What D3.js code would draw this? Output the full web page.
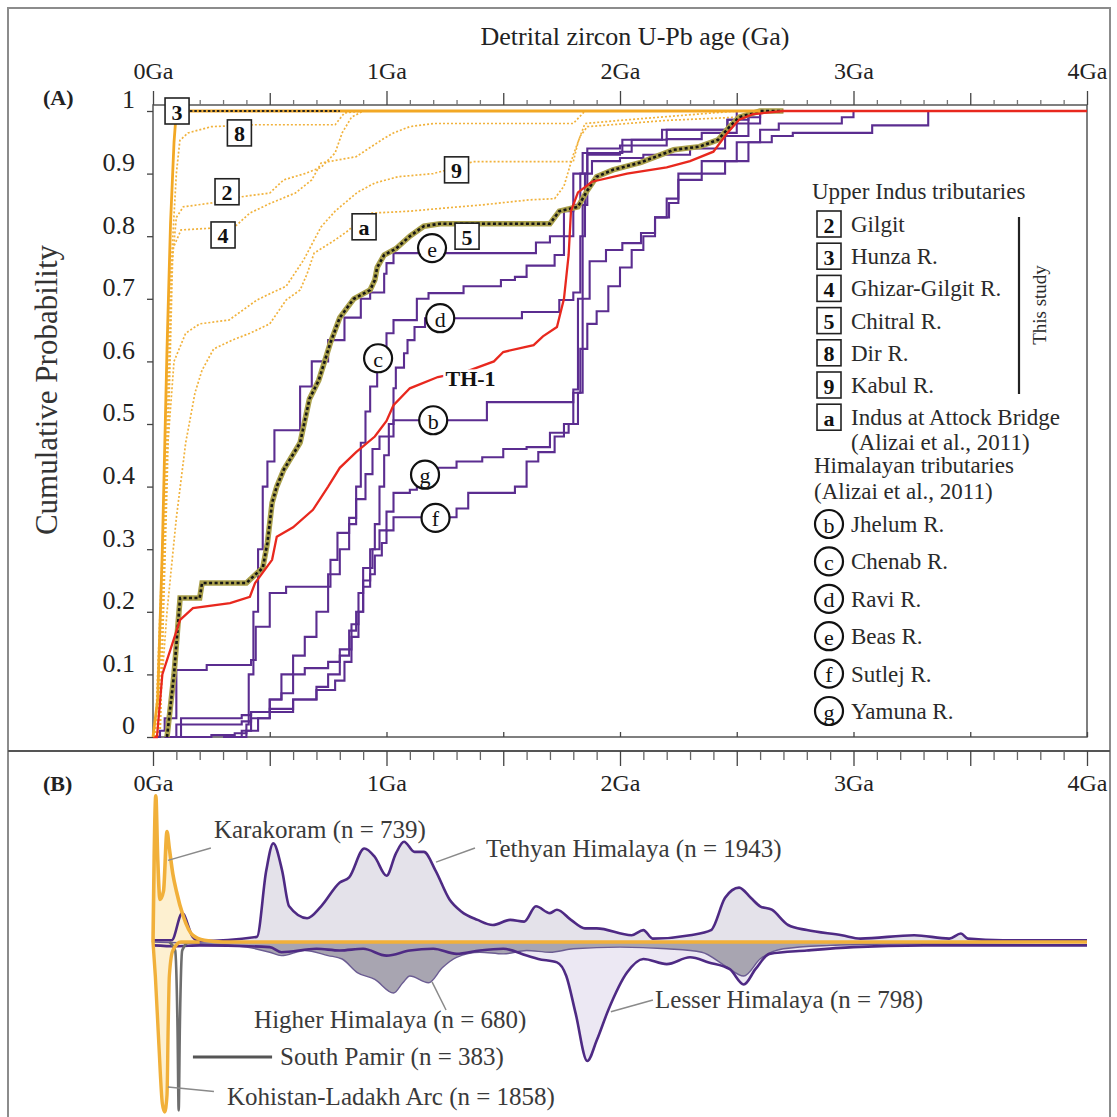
<!DOCTYPE html>
<html>
<head>
<meta charset="utf-8">
<script src="https://cdn.jsdelivr.net/npm/d3@7"></script>
<style>
body { margin: 0; background: #fff; }
text { font-family: "Liberation Serif", "Times New Roman", serif; }
</style>
</head>
<body>
<svg id="fig" width="1117" height="1117"></svg>
<script>
// ---- axis ticks ----
var ageMajor = [0, 1, 2, 3, 4];
var ageLabels = ["0Ga", "1Ga", "2Ga", "3Ga", "4Ga"];
var ageHalf = [0.5, 1.5, 2.5, 3.5];
var probTicks = [0, 0.1, 0.2, 0.3, 0.4, 0.5, 0.6, 0.7, 0.8, 0.9, 1];
var probLabels = ["0", "0.1", "0.2", "0.3", "0.4", "0.5", "0.6", "0.7", "0.8", "0.9", "1"];

// ---- (A) cumulative curves, [age Ga, cumulative probability] ----
var gilgit = [[0.02,0],[0.05,0.35],[0.08,0.75],[0.1,0.83],[0.13,0.847],[0.25,0.853],[0.38,0.863],[0.5,0.869],[0.56,0.89],[0.65,0.9],[0.72,0.91],[0.78,0.933],[0.81,0.965],[0.85,0.99],[0.9,1.0]];
var hunza = [[0,0],[0.02,0.06],[0.04,0.3],[0.06,0.62],[0.075,0.82],[0.09,0.95],[0.1,1.0],[0.8,1.0],[2.6,1.0]];
var ghizar = [[0.03,0],[0.06,0.4],[0.085,0.78],[0.12,0.81],[0.35,0.815],[0.415,0.837],[0.505,0.853],[0.61,0.869],[0.68,0.89],[0.72,0.917],[0.87,0.927],[0.98,0.954],[1.03,0.965],[1.1,0.975],[1.2,0.98],[1.8,0.98],[1.85,1.0]];
var chitral = [[0.06,0],[0.09,0.1],[0.116,0.222],[0.2,0.222],[0.21,0.246],[0.40,0.246],[0.44,0.26],[0.47,0.27],[0.49,0.31],[0.51,0.374],[0.53,0.40],[0.56,0.427],[0.63,0.47],[0.67,0.54],[0.71,0.57],[0.76,0.63],[0.8,0.67],[0.86,0.70],[0.93,0.714],[0.95,0.73],[0.96,0.75],[0.99,0.77],[1.04,0.78],[1.1,0.80],[1.16,0.816],[1.23,0.82],[1.70,0.82],[1.74,0.84],[1.82,0.847],[1.86,0.873],[1.9,0.895],[1.97,0.906],[2.09,0.918],[2.23,0.938],[2.34,0.943],[2.42,0.954],[2.47,0.975],[2.51,0.99],[2.6,1.0],[2.7,1.0]];
var dir = [[0.01,0],[0.04,0.3],[0.07,0.7],[0.1,0.9],[0.115,0.953],[0.15,0.965],[0.25,0.975],[0.43,0.978],[0.78,0.978],[0.82,0.997],[0.9,1.0]];
var kabul = [[0.03,0],[0.06,0.45],[0.09,0.6],[0.14,0.645],[0.2,0.66],[0.325,0.666],[0.385,0.682],[0.445,0.698],[0.505,0.709],[0.57,0.72],[0.645,0.762],[0.72,0.815],[0.78,0.84],[0.875,0.87],[0.95,0.885],[1.05,0.895],[1.2,0.9],[1.3,0.91],[1.37,0.919],[1.8,0.919],[1.82,0.95],[1.85,0.98],[2.0,0.985],[2.5,1.0]];
var attock = [[0.02,0],[0.06,0.2],[0.1,0.35],[0.14,0.47],[0.18,0.55],[0.21,0.586],[0.26,0.62],[0.34,0.634],[0.415,0.645],[0.5,0.66],[0.57,0.698],[0.63,0.714],[0.66,0.74],[0.69,0.773],[0.78,0.794],[0.84,0.81],[0.875,0.826],[0.93,0.837],[1.0,0.838],[1.1,0.84],[1.25,0.845],[1.41,0.85],[1.61,0.858],[1.72,0.86],[1.76,0.88],[1.8,0.93],[1.83,0.96],[1.86,0.975],[2.2,0.985],[2.5,0.99],[2.6,1.0]];
var jhelum = [[0,0],[0.03,0.01],[0.05,0.03],[0.1,0.107],[0.23,0.115],[0.42,0.123],[0.44,0.176],[0.5,0.23],[0.57,0.24],[0.72,0.24],[0.76,0.283],[0.79,0.326],[0.84,0.35],[0.87,0.38],[0.91,0.42],[0.94,0.46],[0.97,0.48],[1.03,0.506],[1.38,0.506],[1.43,0.535],[1.78,0.535],[1.80,0.555],[1.82,0.7],[1.84,0.85],[1.86,0.93],[2.0,0.935],[2.05,0.954],[2.17,0.954],[2.2,0.97],[2.31,0.97],[2.46,0.986],[2.55,1.0]];
var chenab = [[0.1,0],[0.12,0.03],[0.38,0.035],[0.42,0.04],[0.5,0.06],[0.55,0.1],[0.6,0.13],[0.65,0.16],[0.7,0.2],[0.75,0.26],[0.8,0.3],[0.84,0.34],[0.87,0.4],[0.89,0.47],[0.91,0.52],[0.93,0.56],[0.96,0.6],[1.0,0.645],[1.03,0.666],[1.13,0.70],[1.18,0.709],[1.33,0.72],[1.49,0.73],[1.55,0.735],[1.6,0.753],[1.72,0.77],[1.76,0.80],[1.8,0.85],[1.83,0.9],[1.86,0.94],[2.0,0.945],[2.2,0.955],[2.35,0.965],[2.5,0.98],[2.6,1.0]];
var ravi = [[0.3,0],[0.4,0.01],[0.45,0.03],[0.5,0.04],[0.6,0.06],[0.7,0.08],[0.75,0.1],[0.8,0.13],[0.84,0.17],[0.87,0.2],[0.9,0.25],[0.93,0.3],[0.95,0.34],[0.97,0.4],[0.99,0.45],[1.01,0.5],[1.03,0.557],[1.04,0.59],[1.075,0.613],[1.09,0.634],[1.12,0.655],[1.165,0.669],[1.43,0.669],[1.58,0.679],[1.74,0.698],[1.8,0.71],[1.83,0.8],[1.85,0.9],[1.88,0.92],[2.0,0.925],[2.1,0.93],[2.3,0.94],[2.45,0.96],[2.55,0.99],[2.6,1.0]];
var beas = [[0.35,0],[0.38,0.01],[0.40,0.02],[0.41,0.1],[0.43,0.2],[0.45,0.3],[0.47,0.4],[0.49,0.44],[0.52,0.49],[0.6,0.49],[0.63,0.56],[0.68,0.6],[0.75,0.634],[0.82,0.67],[0.89,0.70],[0.93,0.71],[0.99,0.74],[1.0,0.757],[1.03,0.773],[1.63,0.773],[1.64,0.79],[1.70,0.80],[1.76,0.84],[1.8,0.9],[1.84,0.933],[2.0,0.933],[2.01,0.954],[2.17,0.954],[2.18,0.97],[2.31,0.97],[2.46,0.986],[2.5,1.0]];
var sutlej = [[0.05,0],[0.25,0.003],[0.35,0.006],[0.4,0.01],[0.42,0.03],[0.5,0.045],[0.6,0.06],[0.7,0.075],[0.78,0.09],[0.82,0.12],[0.85,0.16],[0.88,0.2],[0.9,0.24],[0.93,0.26],[0.95,0.29],[0.98,0.31],[1.0,0.33],[1.03,0.351],[1.25,0.351],[1.3,0.365],[1.35,0.39],[1.45,0.39],[1.55,0.4],[1.6,0.44],[1.65,0.455],[1.72,0.48],[1.76,0.5],[1.8,0.55],[1.83,0.62],[1.86,0.66],[1.9,0.68],[1.95,0.72],[2.0,0.75],[2.05,0.778],[2.1,0.8],[2.15,0.83],[2.2,0.86],[2.25,0.89],[2.35,0.9],[2.45,0.92],[2.55,0.95],[2.65,0.96],[2.74,0.965],[3.06,0.965],[3.08,0.977],[3.3,0.977],[3.32,1.0]];
var yamuna = [[0.05,0],[0.1,0.02],[0.38,0.025],[0.42,0.04],[0.5,0.06],[0.55,0.07],[0.6,0.1],[0.65,0.11],[0.75,0.12],[0.8,0.14],[0.85,0.18],[0.88,0.23],[0.9,0.27],[0.94,0.3],[0.97,0.33],[1.0,0.36],[1.03,0.39],[1.1,0.395],[1.13,0.42],[1.2,0.43],[1.3,0.44],[1.41,0.447],[1.5,0.46],[1.6,0.463],[1.7,0.486],[1.78,0.5],[1.82,0.55],[1.84,0.7],[1.87,0.76],[1.94,0.778],[2.01,0.789],[2.09,0.805],[2.15,0.83],[2.21,0.853],[2.25,0.9],[2.35,0.92],[2.5,0.95],[2.6,0.97],[2.68,0.98],[2.9,0.98],[2.95,0.99],[3.0,1.0]];
var th1 = [[0,0],[0.017,0],[0.04,0.1],[0.116,0.187],[0.171,0.206],[0.33,0.214],[0.415,0.224],[0.437,0.246],[0.51,0.283],[0.53,0.32],[0.6,0.335],[0.685,0.363],[0.75,0.40],[0.80,0.43],[0.87,0.455],[0.95,0.48],[1.0,0.505],[1.03,0.53],[1.1,0.557],[1.22,0.575],[1.35,0.585],[1.46,0.60],[1.5,0.615],[1.63,0.626],[1.67,0.64],[1.73,0.655],[1.76,0.70],[1.78,0.77],[1.79,0.84],[1.82,0.87],[1.88,0.887],[2.03,0.9],[2.2,0.91],[2.3,0.92],[2.4,0.935],[2.46,0.965],[2.51,0.986],[2.57,0.995],[2.7,1.0],[4.0,1.0]];

// ---- (B) probability density curves, [age Ga, relative probability] ----
var tethyan = [[0,0.01],[0.08,0.01],[0.125,0.17],[0.17,0.03],[0.2,0.005],[0.445,0.03],[0.485,0.42],[0.515,0.58],[0.553,0.42],[0.583,0.21],[0.66,0.14],[0.72,0.21],[0.80,0.35],[0.84,0.38],[0.905,0.55],[0.95,0.50],[1.0,0.39],[1.04,0.52],[1.075,0.59],[1.12,0.53],[1.16,0.53],[1.21,0.42],[1.27,0.25],[1.32,0.18],[1.39,0.13],[1.455,0.10],[1.53,0.13],[1.59,0.12],[1.64,0.21],[1.70,0.17],[1.73,0.19],[1.79,0.13],[1.85,0.08],[1.90,0.08],[2.05,0.04],[2.10,0.07],[2.14,0.02],[2.30,0.04],[2.39,0.07],[2.45,0.26],[2.51,0.32],[2.56,0.26],[2.60,0.21],[2.65,0.19],[2.72,0.10],[2.80,0.07],[2.95,0.04],[3.03,0.02],[3.26,0.04],[3.41,0.02],[3.46,0.05],[3.49,0.02],[3.64,0.01],[4.0,0.01]];
var karakoram = [[0,0],[0.005,0.5],[0.012,0.86],[0.02,0.5],[0.03,0.25],[0.045,0.3],[0.06,0.65],[0.07,0.55],[0.085,0.4],[0.1,0.3],[0.13,0.15],[0.17,0.04],[0.22,0.01],[0.3,0],[4.0,0]];
var higherHim = [[0,0],[0.2,-0.01],[0.4,-0.03],[0.5,-0.06],[0.55,-0.08],[0.65,-0.05],[0.75,-0.08],[0.81,-0.1],[0.875,-0.18],[0.95,-0.22],[1.03,-0.30],[1.07,-0.24],[1.1,-0.2],[1.18,-0.24],[1.24,-0.15],[1.30,-0.09],[1.4,-0.06],[1.5,-0.07],[1.6,-0.05],[1.7,-0.06],[1.8,-0.04],[2.0,-0.03],[2.2,-0.04],[2.35,-0.06],[2.45,-0.14],[2.53,-0.2],[2.6,-0.1],[2.7,-0.04],[2.9,-0.02],[3.2,-0.01],[4.0,0]];
var lesserHim = [[0,-0.02],[0.1,-0.025],[0.2,-0.02],[0.5,-0.03],[0.55,-0.06],[0.7,-0.04],[0.8,-0.05],[0.9,-0.04],[1.0,-0.08],[1.1,-0.05],[1.2,-0.04],[1.3,-0.07],[1.4,-0.05],[1.5,-0.04],[1.6,-0.08],[1.65,-0.1],[1.73,-0.12],[1.77,-0.2],[1.81,-0.42],[1.86,-0.7],[1.9,-0.58],[1.95,-0.4],[2.03,-0.18],[2.1,-0.1],[2.2,-0.13],[2.3,-0.09],[2.38,-0.12],[2.47,-0.16],[2.53,-0.25],[2.58,-0.16],[2.64,-0.07],[2.8,-0.05],[3.0,-0.03],[3.3,-0.02],[4.0,-0.02]];
var southPamir = [[0.07,0],[0.095,-0.05],[0.105,-0.5],[0.11,-0.99],[0.115,-0.5],[0.125,-0.05],[0.15,0]];
var kohistan = [[0,0],[0.01,-0.2],[0.025,-0.6],[0.04,-0.95],[0.05,-1.0],[0.06,-0.9],[0.065,-0.5],[0.07,-0.2],[0.085,-0.05],[0.12,0],[0.2,0]];

// ---- legend entries ----
var upperItems = [["2","Gilgit"],["3","Hunza R."],["4","Ghizar-Gilgit R."],["5","Chitral R."],["8","Dir R."],["9","Kabul R."],["a","Indus at Attock Bridge"]];
var himItems = [["b","Jhelum R."],["c","Chenab R."],["d","Ravi R."],["e","Beas R."],["f","Sutlej R."],["g","Yamuna R."]];

// curve markers in panel A (age, probability)
var markers = [
  {id:"3", shape:"box", age:0.103, p:1.0},
  {id:"8", shape:"box", age:0.37, p:0.965},
  {id:"2", shape:"box", age:0.317, p:0.871},
  {id:"4", shape:"box", age:0.30, p:0.802},
  {id:"a", shape:"box", age:0.904, p:0.815},
  {id:"9", shape:"box", age:1.30, p:0.906},
  {id:"5", shape:"box", age:1.345, p:0.80},
  {id:"e", shape:"circle", age:1.195, p:0.781},
  {id:"d", shape:"circle", age:1.23, p:0.669},
  {id:"c", shape:"circle", age:0.964, p:0.605},
  {id:"b", shape:"circle", age:1.2, p:0.506},
  {id:"g", shape:"circle", age:1.165, p:0.419},
  {id:"f", shape:"circle", age:1.21, p:0.35}
];

// panel B labels (age, relative probability) and leader lines
var bLabels = [
  {text:"Karakoram (n = 739)", age:0.261, v:0.61, from:[0.248,0.553], to:[0.064,0.48]},
  {text:"Tethyan Himalaya (n = 1943)", age:1.426, v:0.50, from:[1.379,0.553], to:[1.212,0.47]},
  {text:"Higher Himalaya (n = 680)", age:0.433, v:-0.506, from:[1.255,-0.40], to:[1.195,-0.235]},
  {text:"Lesser Himalaya (n = 798)", age:2.15, v:-0.388, from:[2.141,-0.341], to:[1.961,-0.41]},
  {text:"Kohistan-Ladakh Arc (n = 1858)", age:0.317, v:-0.959, from:[0.261,-0.88], to:[0.064,-0.853]}
];

var svg = d3.select("#fig");
var x = d3.scaleLinear().domain([0, 4]).range([153, 1087]);
var yA = d3.scaleLinear().domain([0, 1]).range([737, 111]);
var yB = d3.scaleLinear().domain([-1, 1]).range([1112, 772]);
var minorAges = d3.range(1, 40).map(function(i) { return i / 10; }).filter(function(d, i) { return (i + 1) % 5 !== 0; });

svg.append("rect").attr("width", 1117).attr("height", 1117).attr("fill", "#fff");
svg.append("rect").attr("x", 8).attr("y", 8).attr("width", 1102).attr("height", 1130)
    .attr("fill", "none").attr("stroke", "#8c8c8c").attr("stroke-width", 2);

// ---------- panel A ----------
svg.append("text").attr("x", 635).attr("y", 45).attr("text-anchor", "middle")
    .attr("font-size", 26).attr("fill", "#222").text("Detrital zircon U-Pb age (Ga)");
svg.append("text").attr("x", 43).attr("y", 105).attr("font-size", 22).attr("font-weight", "bold")
    .attr("fill", "#222").text("(A)");
svg.append("text").attr("transform", "translate(57,390) rotate(-90)").attr("text-anchor", "middle")
    .attr("font-size", 31).attr("fill", "#333").text("Cumulative Probability");

// plot frame
svg.append("rect").attr("x", x(0)).attr("y", 105).attr("width", x(4) - x(0)).attr("height", 737 - 105)
    .attr("fill", "none").attr("stroke", "#555").attr("stroke-width", 1.5);

function styleAxis(g, color) {
  g.select(".domain").remove();
  g.selectAll("line").attr("stroke", color || "#444").attr("stroke-width", 1.3);
  g.selectAll("text").attr("font-size", 24).attr("fill", "#222")
      .style("font-family", '"Liberation Serif","Times New Roman",serif');
}

svg.append("g").attr("transform", "translate(0,105)")
    .call(d3.axisTop(x).tickValues(ageMajor).tickSize(14).tickPadding(12)
      .tickFormat(function(d, i) { return ageLabels[i]; }))
    .call(styleAxis);
svg.append("g").attr("transform", "translate(0,105)")
    .call(d3.axisTop(x).tickValues(ageHalf).tickSize(12).tickFormat(""))
    .call(styleAxis);
svg.append("g").attr("transform", "translate(0,105)")
    .call(d3.axisTop(x).tickValues(minorAges).tickSize(5).tickFormat(""))
    .call(styleAxis, "#777");
svg.append("g").attr("transform", "translate(0,737)")
    .call(d3.axisBottom(x).tickValues(ageMajor.concat(ageHalf)).tickSize(-5).tickFormat(""))
    .call(styleAxis);

var yAxisG = svg.append("g").attr("transform", "translate(153,0)")
    .call(d3.axisLeft(yA).tickValues(probTicks).tickSize(6).tickPadding(12)
      .tickFormat(function(d, i) { return probLabels[i]; }))
    .call(styleAxis);
yAxisG.selectAll("text").attr("font-size", 26).attr("dy", "-0.12em");

var lineA = d3.line().x(function(d) { return x(d[0]); }).y(function(d) { return yA(d[1]); });
var stepA = d3.line().x(function(d) { return x(d[0]); }).y(function(d) { return yA(d[1]); }).curve(d3.curveStepAfter);

var plotA = svg.append("g");

// upper Indus tributaries (dotted)
[gilgit, ghizar, dir, kabul, attock].forEach(function(s) {
  plotA.append("path").datum(s).attr("d", lineA).attr("fill", "none")
      .attr("stroke", "#f1b23c").attr("stroke-width", 1.7).attr("stroke-dasharray", "2,2");
});

// Himalayan tributaries
[jhelum, chenab, ravi, beas, sutlej, yamuna].forEach(function(s) {
  plotA.append("path").datum(s).attr("d", stepA).attr("fill", "none")
      .attr("stroke", "#5b2d90").attr("stroke-width", 2.1);
});

// Chitral: khaki band with black dots
plotA.append("path").datum(chitral).attr("d", lineA).attr("fill", "none")
    .attr("stroke", "#aaa04c").attr("stroke-width", 5.5);
plotA.append("path").datum(chitral).attr("d", lineA).attr("fill", "none")
    .attr("stroke", "#151515").attr("stroke-width", 2.6).attr("stroke-dasharray", "3,2.5");

// TH-1
plotA.append("path").datum(th1).attr("d", lineA).attr("fill", "none")
    .attr("stroke", "#e8281e").attr("stroke-width", 2.3);

// Hunza
plotA.append("path").datum(hunza).attr("d", lineA).attr("fill", "none")
    .attr("stroke", "#f2a825").attr("stroke-width", 2.8);
plotA.append("path").datum(hunza.filter(function(d) { return d[0] >= 0.1 && d[0] <= 0.8; }))
    .attr("d", lineA).attr("fill", "none")
    .attr("stroke", "#222").attr("stroke-width", 2).attr("stroke-dasharray", "2.5,2");

plotA.append("text").attr("x", x(1.36)).attr("y", yA(0.573)).attr("text-anchor", "middle")
    .attr("dominant-baseline", "central").attr("font-size", 22).attr("font-weight", "bold")
    .attr("fill", "#111").attr("stroke", "#fff").attr("stroke-width", 5).attr("paint-order", "stroke")
    .text("TH-1");

function drawMarker(g, id, shape, cx, cy) {
  if (shape === "box") {
    g.append("rect").attr("x", cx - 12).attr("y", cy - 13).attr("width", 24).attr("height", 26)
        .attr("fill", "#fff").attr("stroke", "#222").attr("stroke-width", 1.6);
  } else {
    g.append("circle").attr("cx", cx).attr("cy", cy).attr("r", 14)
        .attr("fill", "#fff").attr("stroke", "#111").attr("stroke-width", 2.2);
  }
  g.append("text").attr("x", cx).attr("y", cy + 1).attr("text-anchor", "middle")
      .attr("dominant-baseline", "central").attr("font-size", 22)
      .attr("font-weight", shape === "box" ? "bold" : "normal").attr("fill", "#111").text(id);
}

markers.forEach(function(m) { drawMarker(plotA, m.id, m.shape, x(m.age), yA(m.p)); });

// legend
var leg = svg.append("g").attr("font-size", 23).attr("fill", "#2a2a2a");
leg.append("text").attr("x", 812).attr("y", 199).text("Upper Indus tributaries");
upperItems.forEach(function(it, i) {
  var cy = 224 + i * 32.2;
  drawMarker(leg, it[0], "box", 829, cy);
  leg.append("text").attr("x", 851).attr("y", cy + 8).text(it[1]);
});
leg.append("text").attr("x", 851).attr("y", 450).text("(Alizai et al., 2011)");
leg.append("text").attr("x", 814).attr("y", 473).text("Himalayan tributaries");
leg.append("text").attr("x", 814).attr("y", 499).text("(Alizai et al., 2011)");
himItems.forEach(function(it, i) {
  var cy = 524 + i * 37.4;
  drawMarker(leg, it[0], "circle", 829, cy);
  leg.append("text").attr("x", 851).attr("y", cy + 8).text(it[1]);
});
leg.append("line").attr("x1", 1019).attr("x2", 1019).attr("y1", 217).attr("y2", 394)
    .attr("stroke", "#222").attr("stroke-width", 2.2);
leg.append("text").attr("transform", "translate(1046,305) rotate(-90)").attr("text-anchor", "middle")
    .attr("font-size", 19).text("This study");

// ---------- panel B ----------
svg.append("line").attr("x1", 8).attr("x2", 1110).attr("y1", 751).attr("y2", 751)
    .attr("stroke", "#555").attr("stroke-width", 2);
svg.append("text").attr("x", 43).attr("y", 791).attr("font-size", 22).attr("font-weight", "bold")
    .attr("fill", "#222").text("(B)");

svg.append("g").attr("transform", "translate(0,751)")
    .call(d3.axisBottom(x).tickValues(ageMajor).tickSize(15).tickPadding(8)
      .tickFormat(function(d, i) { return ageLabels[i]; }))
    .call(styleAxis);
svg.append("g").attr("transform", "translate(0,751)")
    .call(d3.axisBottom(x).tickValues(ageHalf).tickSize(15).tickFormat(""))
    .call(styleAxis);
svg.append("g").attr("transform", "translate(0,751)")
    .call(d3.axisBottom(x).tickValues(minorAges).tickSize(9).tickFormat(""))
    .call(styleAxis, "#666");

var areaB = d3.area().x(function(d) { return x(d[0]); }).y0(yB(0)).y1(function(d) { return yB(d[1]); })
    .curve(d3.curveMonotoneX);
var lineB = d3.line().x(function(d) { return x(d[0]); }).y(function(d) { return yB(d[1]); })
    .curve(d3.curveMonotoneX);

var plotB = svg.append("g");
plotB.append("path").datum(tethyan).attr("d", areaB).attr("fill", "#e4e2ea");
plotB.append("path").datum(lesserHim).attr("d", areaB).attr("fill", "#ece8f3");
plotB.append("path").datum(higherHim).attr("d", areaB).attr("fill", "#a8a5b1");
plotB.append("path").datum(karakoram).attr("d", areaB).attr("fill", "#fdf0d0");
plotB.append("path").datum(kohistan).attr("d", areaB).attr("fill", "#fdf0d0");

plotB.append("path").datum(higherHim).attr("d", lineB).attr("fill", "none")
    .attr("stroke", "#6b5c92").attr("stroke-width", 1.4);
plotB.append("path").datum(lesserHim).attr("d", lineB).attr("fill", "none")
    .attr("stroke", "#4e2a84").attr("stroke-width", 2.6);
plotB.append("path").datum(tethyan).attr("d", lineB).attr("fill", "none")
    .attr("stroke", "#4e2a84").attr("stroke-width", 2.6);
plotB.append("path").datum(southPamir).attr("d", lineB).attr("fill", "none")
    .attr("stroke", "#6e6e6e").attr("stroke-width", 2.6);
plotB.append("path").datum(kohistan).attr("d", lineB).attr("fill", "none")
    .attr("stroke", "#f1b03a").attr("stroke-width", 3.4);
plotB.append("path").datum(karakoram).attr("d", lineB).attr("fill", "none")
    .attr("stroke", "#f1b03a").attr("stroke-width", 3.6);

// labels and leader lines
bLabels.forEach(function(l) {
  plotB.append("line").attr("x1", x(l.from[0])).attr("y1", yB(l.from[1]))
      .attr("x2", x(l.to[0])).attr("y2", yB(l.to[1]))
      .attr("stroke", "#8a8a8a").attr("stroke-width", 1.5);
  plotB.append("text").attr("x", x(l.age)).attr("y", yB(l.v)).attr("font-size", 25)
      .attr("fill", "#3a3a3a").text(l.text);
});
plotB.append("line").attr("x1", x(0.171)).attr("y1", yB(-0.676)).attr("x2", x(0.51)).attr("y2", yB(-0.676))
    .attr("stroke", "#555").attr("stroke-width", 3);
plotB.append("text").attr("x", x(0.544)).attr("y", yB(-0.724)).attr("font-size", 25)
    .attr("fill", "#3a3a3a").text("South Pamir (n = 383)");
</script>
</body>
</html>
